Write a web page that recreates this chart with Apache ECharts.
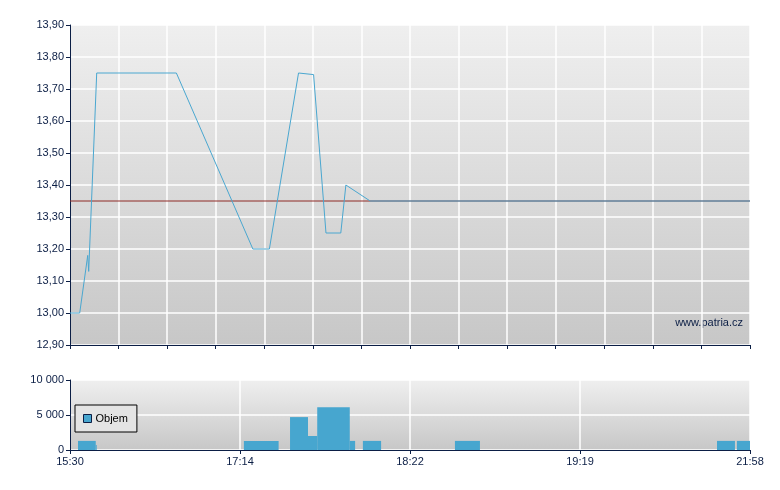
<!DOCTYPE html>
<html>
<head>
<meta charset="utf-8">
<script src="https://cdn.jsdelivr.net/npm/echarts@6/dist/echarts.min.js"></script>
<style>
html, body { margin: 0; padding: 0; background: #fff; }
#chart { width: 780px; height: 490px; }
</style>
</head>
<body>
<div id="chart"></div>
<script>
// time slots on a 0..28 scale (axis is not linear in clock time)
var timeLabels = ['15:30', '17:14', '18:22', '19:19', '21:58'];

var priceX = [0, 0.4, 0.73, 0.77, 1.10, 4.38, 7.53, 8.21, 9.41, 10.03, 10.54, 11.15, 11.36, 12.36, 28];
var priceY = [13.00, 13.00, 13.18, 13.13, 13.75, 13.75, 13.20, 13.20, 13.75, 13.745, 13.25, 13.25, 13.40, 13.35, 13.35];

var prevClose = 13.35;

var volStart = [0.33, 1.06, 7.16, 9.06, 9.80, 10.18, 11.52, 12.06, 15.85, 26.64, 27.46];
var volEnd   = [1.06, 1.10, 8.59, 9.80, 10.18, 11.52, 11.74, 12.81, 16.88, 27.38, 28.00];
var volValue = [1300, 700, 1300, 4700, 2000, 6100, 1300, 1300, 1300, 1300, 1300];

var navy = '#0b1e45';
var font = 'Liberation Sans';

var priceData = priceX.map(function (x, i) { return [x, priceY[i]]; });
var volData = volStart.map(function (s, i) { return [s, volEnd[i], volValue[i]]; });

function bg() {
    return new echarts.graphic.LinearGradient(0, 0, 0, 1, [
        { offset: 0, color: '#efefef' },
        { offset: 1, color: '#c7c7c7' }
    ]);
}

var axisCommon = {
    axisLine: { lineStyle: { color: navy, width: 1 } },
    axisTick: { show: true, length: 4, lineStyle: { color: navy, width: 1 } },
    axisLabel: { color: navy, fontFamily: font, fontSize: 11, margin: 6 },
    splitLine: { show: true, lineStyle: { color: '#ffffff', width: 1.5 } }
};

var option = {
    animation: false,
    backgroundColor: '#ffffff',
    grid: [
        { left: 70, right: 30, top: 25, height: 320, show: true, backgroundColor: bg(), borderWidth: 0 },
        { left: 70, right: 30, top: 380, height: 70, show: true, backgroundColor: bg(), borderWidth: 0 }
    ],
    legend: {
        data: [{ name: 'Objem', icon: 'rect' }],
        left: 75,
        top: 405,
        orient: 'vertical',
        itemWidth: 8,
        itemHeight: 8,
        itemGap: 4,
        padding: [8, 9, 8, 8],
        borderColor: '#000',
        borderWidth: 1,
        borderRadius: 0,
        backgroundColor: '#e4e4e4',
        textStyle: { color: '#000', fontFamily: font, fontSize: 11, padding: [0, 0, 0, -1] },
        itemStyle: { borderColor: navy, borderWidth: 1 }
    },
    xAxis: [
        Object.assign({}, axisCommon, {
            type: 'value', gridIndex: 0, min: 0, max: 28, interval: 2,
            axisLabel: { show: false }
        }),
        Object.assign({}, axisCommon, {
            type: 'value', gridIndex: 1, min: 0, max: 28, interval: 7,
            axisLabel: {
                color: navy, fontFamily: font, fontSize: 11, margin: 6,
                formatter: function (v) { return timeLabels[Math.round(v / 7)]; }
            }
        })
    ],
    yAxis: [
        Object.assign({}, axisCommon, {
            type: 'value', gridIndex: 0, min: 12.9, max: 13.9, interval: 0.1,
            axisLabel: {
                color: navy, fontFamily: font, fontSize: 11, margin: 6,
                formatter: function (v) { return v.toFixed(2).replace('.', ','); }
            }
        }),
        Object.assign({}, axisCommon, {
            type: 'value', gridIndex: 1, min: 0, max: 10000, interval: 5000,
            axisLabel: {
                color: navy, fontFamily: font, fontSize: 11, margin: 6,
                formatter: function (v) { return String(v).replace(/\B(?=(\d{3})+(?!\d))/g, ' '); }
            }
        })
    ],
    graphic: [{
        type: 'text',
        right: 37,
        top: 317,
        style: { text: 'www.patria.cz', fill: navy, font: '11px "Liberation Sans"' }
    }],
    series: [
        {
            name: 'ref',
            type: 'line',
            xAxisIndex: 0, yAxisIndex: 0,
            data: [[0, prevClose], [28, prevClose]],
            symbol: 'none',
            lineStyle: { color: '#8e2a26', width: 1 },
            silent: true,
            z: 2
        },
        {
            name: 'Cena',
            type: 'line',
            xAxisIndex: 0, yAxisIndex: 0,
            data: priceData,
            symbol: 'none',
            lineStyle: { color: '#4aa7d0', width: 1 },
            z: 3
        },
        {
            name: 'Objem',
            type: 'custom',
            xAxisIndex: 1, yAxisIndex: 1,
            data: volData,
            itemStyle: { color: '#47a6cf' },
            renderItem: function (params, api) {
                var p0 = api.coord([api.value(0), api.value(2)]);
                var p1 = api.coord([api.value(1), 0]);
                return {
                    type: 'rect',
                    shape: { x: p0[0], y: p0[1], width: p1[0] - p0[0], height: p1[1] - p0[1] },
                    style: { fill: '#47a6cf' }
                };
            },
            encode: { x: [0, 1], y: 2 },
            z: 3
        }
    ]
};

var myChart = echarts.init(document.getElementById('chart'));
myChart.setOption(option);
</script>
</body>
</html>
